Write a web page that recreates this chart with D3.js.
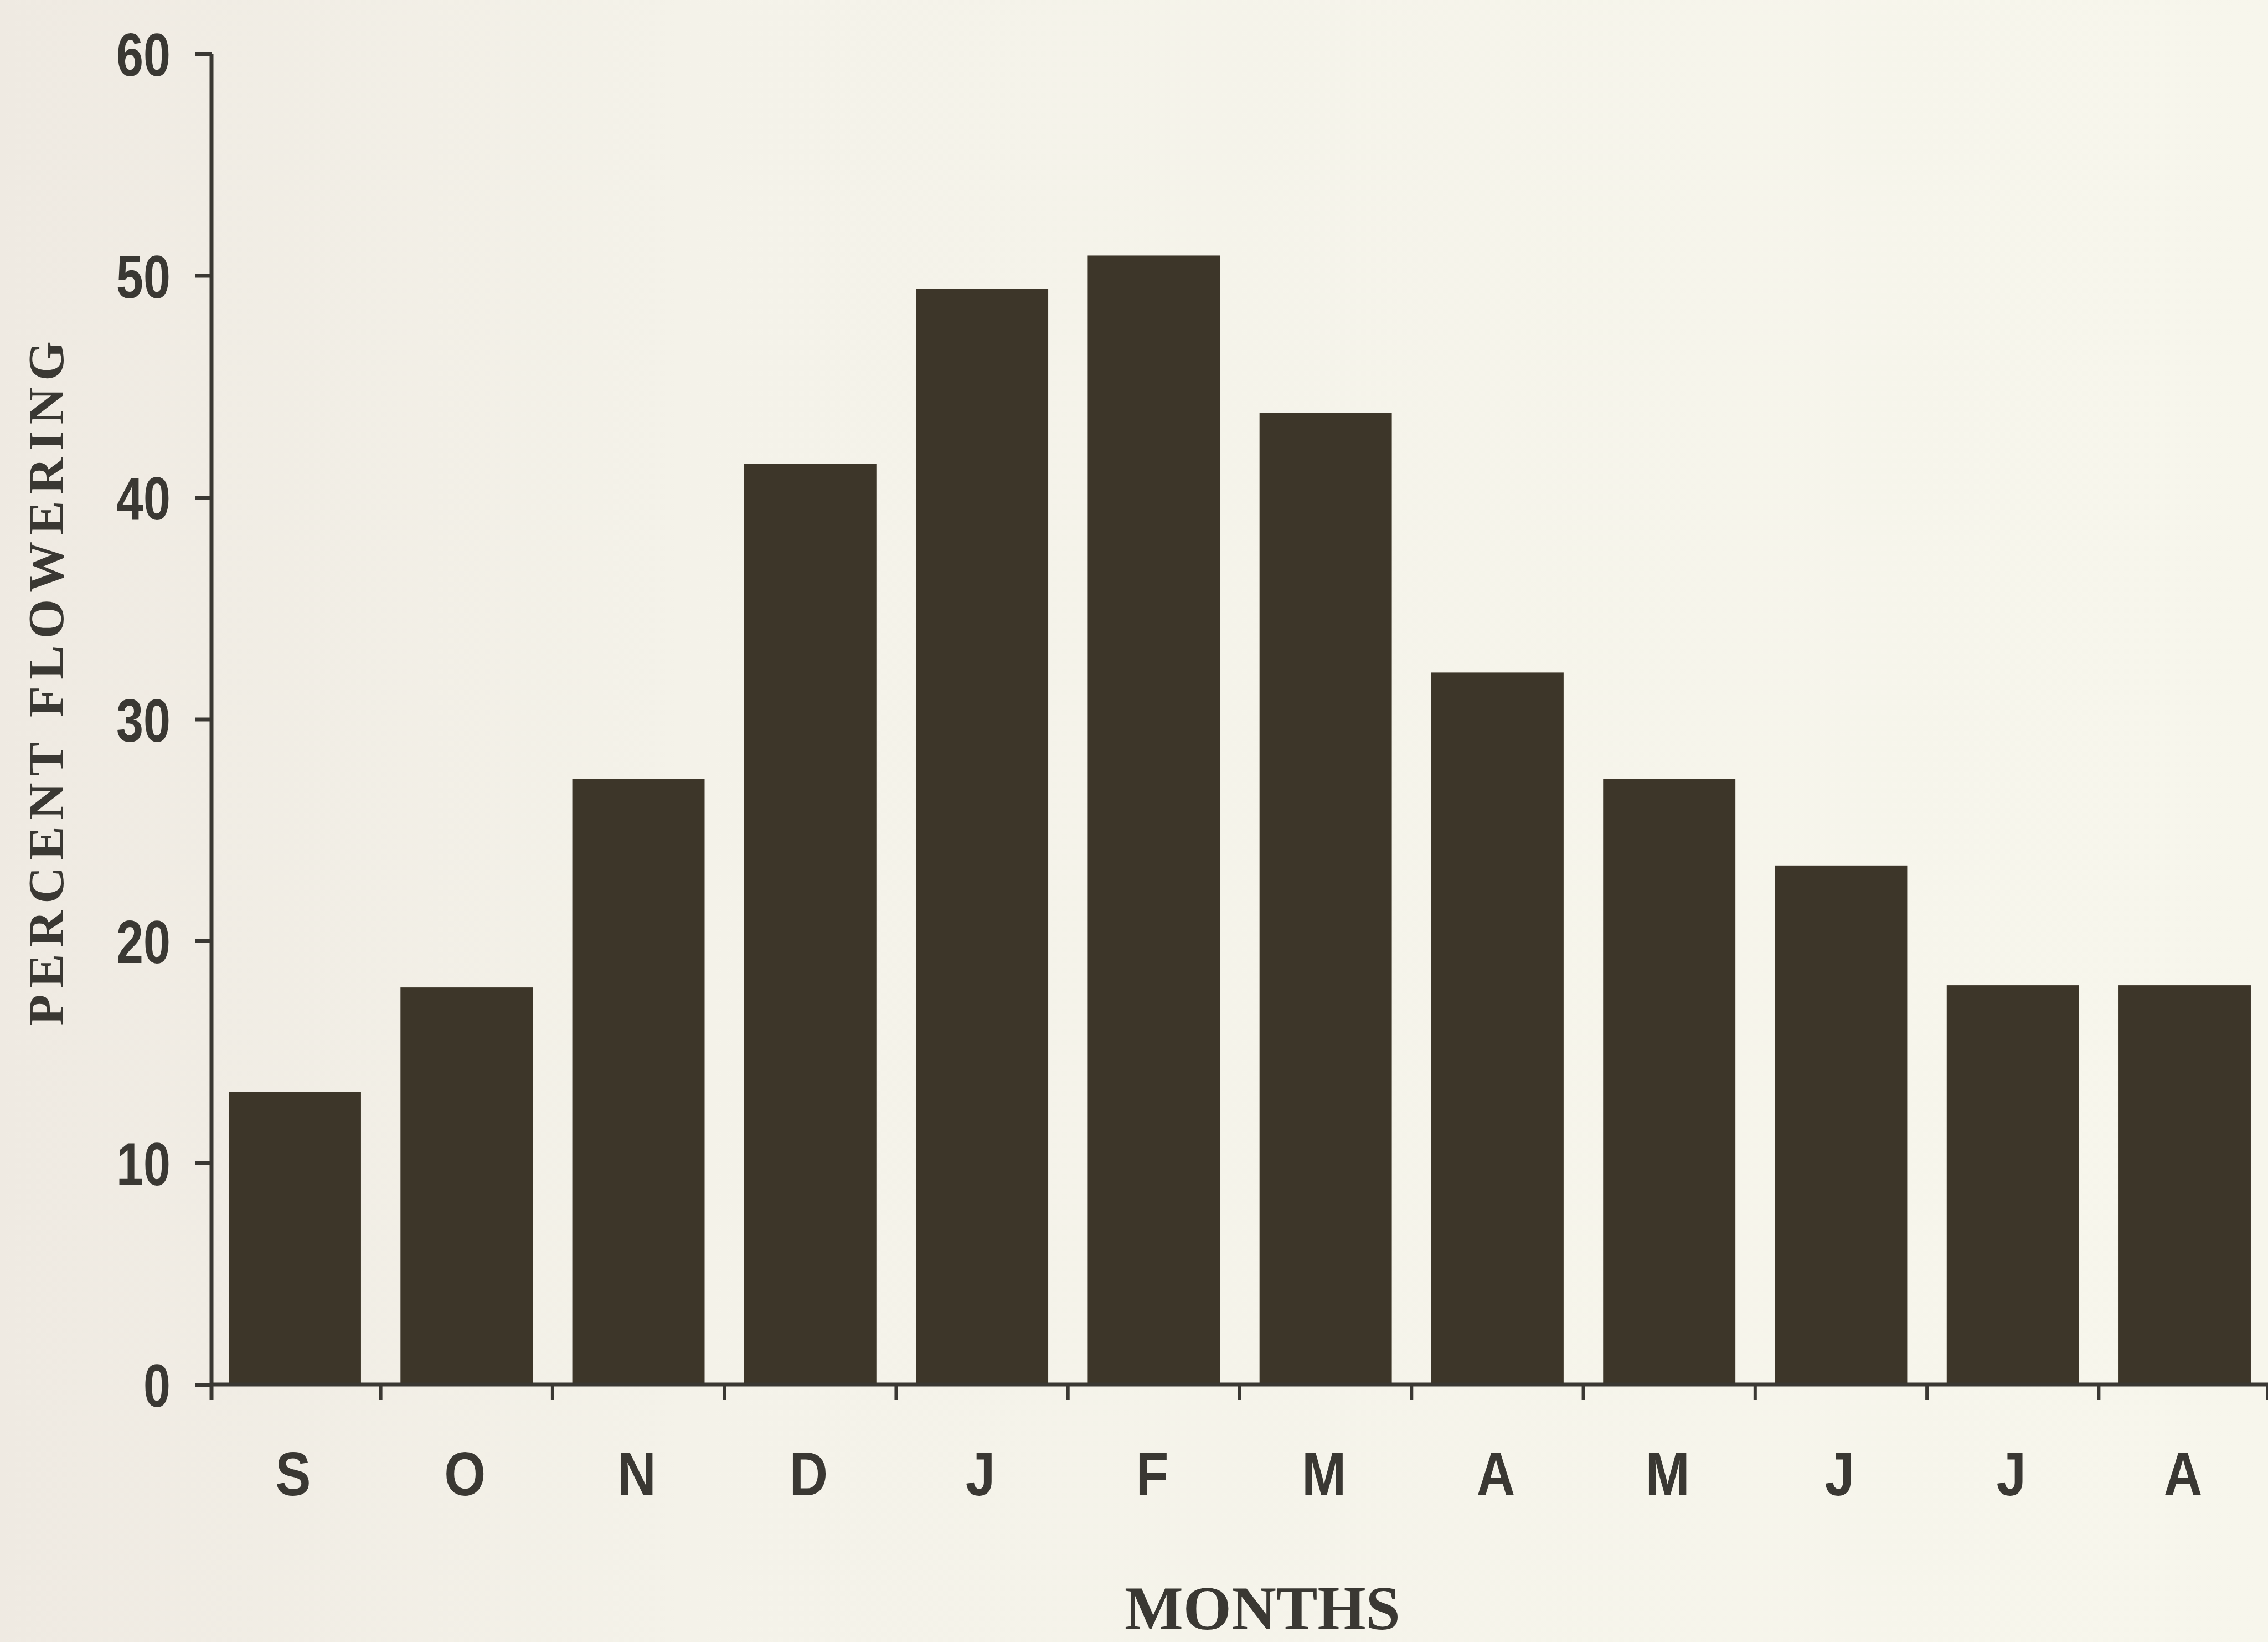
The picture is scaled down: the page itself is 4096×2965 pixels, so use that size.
<!DOCTYPE html>
<html>
<head>
<meta charset="utf-8">
<script src="https://cdn.jsdelivr.net/npm/d3@7"></script>
<style>
  html, body { margin: 0; padding: 0; background: #f5f3ea; }
  svg { display: block; }
</style>
</head>
<body>
<script>
// data
var months = ["S", "O", "N", "D", "J", "F", "M", "A", "M", "J", "J", "A"];
var flowering = [13.2, 17.9, 27.3, 41.5, 49.4, 50.9, 43.8, 32.1, 27.3, 23.4, 18.0, 18.0];
var yTicks = [0, 10, 20, 30, 40, 50, 60];

var W = 4096, H = 2965;
var plotLeft = 382, plotRight = 4096, plotTop = 97, plotBottom = 2500;
var ink = "#3a3833";
var sans = "'Liberation Sans', Arial, sans-serif";

var svg = d3.select("body").append("svg")
  .attr("width", W)
  .attr("height", H);

// squeeze a bold sans label so it looks like the narrow face of the original
var condense = function(sel, k){
  sel.each(function(){
    var len = this.getComputedTextLength();
    d3.select(this)
      .attr("textLength", len * k)
      .attr("lengthAdjust", "spacingAndGlyphs");
  });
};

// paper background, a bit warmer on the left
var grad = svg.append("defs").append("linearGradient")
  .attr("id", "paper")
  .attr("x1", "0").attr("x2", "1").attr("y1", "0").attr("y2", "0");
grad.append("stop").attr("offset", "0").attr("stop-color", "#efeae2");
grad.append("stop").attr("offset", "0.3").attr("stop-color", "#f4f2e9");
grad.append("stop").attr("offset", "1").attr("stop-color", "#f7f6ec");
svg.append("rect").attr("width", W).attr("height", H).attr("fill", "url(#paper)");

var x = d3.scaleBand()
  .domain(d3.range(months.length))
  .range([plotLeft, plotRight])
  .paddingInner(0.23)
  .paddingOuter(0.1);

var y = d3.scaleLinear()
  .domain([0, 60])
  .range([plotBottom, plotTop]);

// bars
svg.append("g").selectAll("rect")
  .data(flowering)
  .enter().append("rect")
  .attr("x", function(d, i){ return x(i); })
  .attr("y", function(d){ return y(d); })
  .attr("width", x.bandwidth())
  .attr("height", function(d){ return y(0) - y(d); })
  .attr("fill", "#3d3629");

// y axis
var yAxis = d3.axisLeft(y)
  .tickValues(yTicks)
  .tickSize(30)
  .tickPadding(44)
  .tickSizeOuter(0);

var gy = svg.append("g")
  .attr("transform", "translate(" + plotLeft + ",0)")
  .call(yAxis);
gy.select(".domain").remove();
gy.selectAll(".tick line").attr("stroke", ink).attr("stroke-width", 7);
gy.selectAll(".tick text")
  .attr("fill", ink)
  .attr("font-family", sans)
  .attr("font-weight", "bold")
  .attr("font-size", 110)
  .attr("dy", "0.36em")
  .call(condense, 0.8);

svg.append("line")
  .attr("x1", plotLeft).attr("x2", plotLeft)
  .attr("y1", y(60)).attr("y2", plotBottom + 28)
  .attr("stroke", ink).attr("stroke-width", 7);

// x axis: ticks sit between the bands
var step = x.step();
var edges = d3.range(months.length + 1).map(function(i){
  return i < months.length ? x(i) - x.paddingInner() * step / 2 : plotRight;
});
edges[0] = plotLeft;

svg.append("line")
  .attr("x1", plotLeft).attr("x2", plotRight)
  .attr("y1", plotBottom).attr("y2", plotBottom)
  .attr("stroke", ink).attr("stroke-width", 7);

svg.append("g").selectAll("line")
  .data(edges)
  .enter().append("line")
  .attr("x1", function(d){ return d; })
  .attr("x2", function(d){ return d; })
  .attr("y1", plotBottom)
  .attr("y2", plotBottom + 28)
  .attr("stroke", ink)
  .attr("stroke-width", 6);

svg.append("g").selectAll("text")
  .data(months)
  .enter().append("text")
  .attr("x", function(d, i){ return x(i) + x.bandwidth() / 2 - 3; })
  .attr("y", 2700)
  .attr("text-anchor", "middle")
  .attr("fill", ink)
  .attr("font-family", sans)
  .attr("font-weight", "bold")
  .attr("font-size", 112)
  .text(function(d){ return d; })
  .call(condense, 0.86);

// axis titles
svg.append("text")
  .attr("x", 2280)
  .attr("y", 2942)
  .attr("text-anchor", "middle")
  .attr("fill", ink)
  .attr("font-family", "'Liberation Serif', 'Times New Roman', serif")
  .attr("font-weight", "bold")
  .attr("font-size", 112)
  .text("MONTHS");

svg.append("text")
  .attr("transform", "translate(114,1228) rotate(-90)")
  .attr("text-anchor", "middle")
  .attr("fill", ink)
  .attr("font-family", "'Liberation Serif', 'Times New Roman', serif")
  .attr("font-weight", "bold")
  .attr("font-size", 92)
  .attr("letter-spacing", 12)
  .text("PERCENT FLOWERING");
</script>
</body>
</html>
